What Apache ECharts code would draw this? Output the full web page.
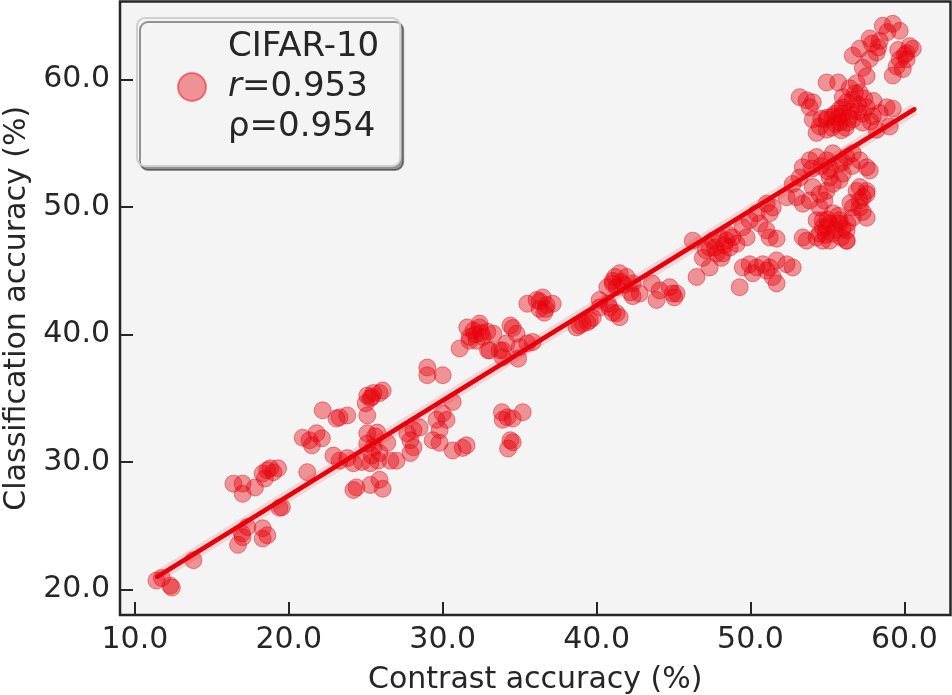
<!DOCTYPE html>
<html>
<head>
<meta charset="utf-8">
<title>CIFAR-10 contrast vs classification accuracy</title>
<script src="https://cdn.jsdelivr.net/npm/echarts@6/dist/echarts.min.js"></script>
<style>
  html, body { margin: 0; padding: 0; background: #ffffff; }
  #chart { width: 952px; height: 695px; }
</style>
</head>
<body>
<div id="chart"></div>
<script>
// --- data: [contrast accuracy, classification accuracy] ---
var seriesName = 'CIFAR-10';
var pearsonR = '0.953';
var spearmanRho = '0.954';

var lowGroup = [
  [11.4,20.7],[11.75,20.9],[12.3,20.3],[12.4,20.15],[13.8,22.3],
  [16.7,23.5],[16.95,24.4],[17.3,24.9],[17.0,24.1],[18.3,24.8],[18.6,24.25],[18.3,24.0],
  [19.4,26.4],[19.55,26.45],
  [16.4,28.3],[17.0,28.3],[17.0,27.5],[17.8,28.0],
  [18.3,29.1],[18.6,29.35],[18.8,29.5],[19.0,29.2],[19.3,29.5],[18.45,28.7]
];
var group20s = [
  [21.2,29.2],[20.9,31.9],[21.35,31.7],[21.8,32.25],[22.15,31.85],[21.5,31.3],
  [22.2,34.05],[23.1,33.4],[23.3,33.5],[23.8,33.65],
  [25.1,35.2],[25.5,35.4],[25.9,35.4],[25.3,35.0],[25.0,34.6],[25.1,33.65],[26.1,35.6],[25.4,35.1],
  [22.9,30.5],[23.3,30.1],[23.8,30.3],[24.2,29.9],[24.75,30.0],
  [24.4,28.0],[24.2,27.8],[25.3,28.2],[26.1,27.9],[25.9,28.6],
  [25.1,32.25],[25.75,32.3],[25.5,31.15],[25.9,30.7],[25.3,29.9],[25.8,30.1],[25.6,32.0],[25.4,30.5],
  [26.4,31.5],[25.1,31.45],[26.6,30.1],[27.0,30.1]
];
var group30sLow = [
  [29.0,37.4],[29.0,36.8],[30.0,36.8],
  [30.65,34.7],[30.0,33.8],[30.25,33.3],[29.6,33.3],[29.8,32.5],[29.35,31.7],[29.8,31.5],
  [30.65,30.9],[31.3,31.1],[31.55,31.3],
  [27.7,32.25],[28.1,32.5],[28.5,32.7],[27.9,31.7],[28.1,31.15],[27.9,30.7],
  [33.85,33.9],[34.2,33.5],[34.55,33.4],[35.2,33.9],[33.9,33.3],[34.4,31.7],[34.55,31.55],[34.25,31.05]
];
var group30sHigh = [
  [31.6,40.55],[32.0,40.3],[32.4,40.55],[32.9,40.2],[31.1,38.9],[32.2,39.5],[32.6,39.8],[31.75,39.8],[32.95,38.75],
  [34.4,40.7],[34.55,40.5],[33.9,38.75],[35.0,39.0],[35.5,39.3],[35.85,39.4],[34.9,38.1],
  [32.4,40.85],[33.3,40.05],[31.75,39.5],[33.05,38.75],[33.7,38.75],[34.8,40.05],[34.15,39.3],[33.9,38.2],
  [32.5,40.1],[32.1,40.0],
  [36.1,42.7],[36.5,42.9],[36.75,42.3],[37.15,42.4],[36.6,41.7],[35.5,42.4],[36.3,42.0],[36.3,42.6],[36.7,42.0]
];
var group40s = [
  [38.9,40.7],[39.4,40.95],[39.75,41.3],[40.2,42.1],[40.75,42.4],[41.05,41.7],
  [38.7,40.55],[39.1,40.85],[39.55,41.1],[41.3,41.65],[41.5,41.35],[40.85,42.1],[40.2,42.7],
  [41.05,44.2],[41.5,44.8],[41.95,44.5],[41.3,43.7],[42.35,44.0],[42.8,43.2],[42.2,43.3],
  [40.7,43.7],[41.05,44.0],[42.35,43.0],[41.6,44.1],[41.8,43.9],[41.2,44.5],
  [43.6,44.0],[44.1,43.45],[43.9,42.7],[44.75,43.7],[45.2,43.2],[45.05,42.9],[44.95,43.2],
  [46.5,44.5]
];
var group50s = [
  [46.25,47.35],[46.9,46.0],[47.35,46.8],[47.55,47.35],[48.0,47.6],[48.45,47.35],[48.65,46.8],
  [49.1,47.1],[47.8,46.35],[47.35,45.25],[48.2,46.35],[48.85,47.6],
  [47.7,46.8],[48.3,47.0],[47.1,46.6],[48.6,47.8],[48.1,46.0],
  [49.3,43.7],
  [49.5,45.25],[49.95,45.5],[50.4,45.25],[50.8,45.5],[51.25,45.25],[51.7,45.8],[52.35,45.5],
  [52.75,45.25],[51.45,44.5],[51.7,44.0],[51.05,45.0],[50.15,44.8],
  [49.5,48.4],[49.95,48.95],[50.6,48.7],[51.05,48.15],[51.25,47.6],[51.7,47.5],[49.75,47.6],
  [50.4,49.5],[51.25,49.5],[51.45,49.95],[51.05,50.25]
];
var groupMidRight = [
  [52.35,50.75],[52.75,51.8],[53.2,52.3],[53.4,53.1],[53.85,53.65],[54.3,53.9],[54.95,53.65],
  [55.35,54.2],[55.8,53.4],[56.25,53.9],[56.65,54.2],[57.1,53.65],[57.55,53.1],[57.75,52.85],
  [54.0,53.0],[54.6,53.2],[55.2,53.0],[56.0,53.5],[56.6,53.2],[55.0,52.8],
  [53.0,50.75],[53.4,50.25],[53.85,50.5],[54.5,51.0],[54.95,51.25],[55.35,51.8],[55.15,52.3],
  [56.0,52.6],[55.8,52.1],[54.05,51.55],
  [54.5,49.95],[54.7,48.95],[54.95,48.4],[54.5,47.9],[55.35,49.5],[55.8,48.7],[56.25,48.15],
  [55.35,47.9],[56.25,47.35],[56.65,49.15],[57.1,49.95],[57.55,49.15],[56.9,51.25],[57.3,50.75],
  [57.55,51.25],[53.4,47.6],[53.65,47.35],[54.3,47.6],[54.7,47.35],
  [54.3,48.95],[54.7,48.4],[55.15,48.7],[55.8,48.95],[56.65,49.95],[57.1,50.5],[57.55,51.0],
  [57.1,51.55],[55.15,47.35],[56.25,47.35],
  [55.5,48.2],[56.0,48.3],[55.7,49.3],[56.3,48.7],[55.0,49.0],[54.8,50.5],[56.5,50.3],
  [57.3,49.6],[55.9,47.6],[54.9,47.8]
];
var groupTop = [
  [53.2,58.6],[53.65,58.35],[54.05,58.2],[53.85,57.8],[54.95,59.75],[55.7,59.75],
  [54.05,56.85],[54.5,56.3],[54.95,56.85],[55.35,57.1],[55.8,57.65],[56.25,58.2],[56.65,58.4],
  [57.1,58.95],[57.55,57.8],[57.95,57.1],[58.4,57.35],[58.85,57.8],[59.25,57.7],[54.3,55.8],
  [54.95,56.05],[55.8,56.6],[56.65,56.85],[57.3,56.6],[58.2,56.05],[59.05,56.3],
  [55.0,57.0],[55.5,57.3],[56.0,57.8],[56.5,57.5],[57.0,58.0],[56.3,56.6],[55.7,57.0],
  [57.3,57.3],[56.8,58.9],[55.3,56.2],[54.6,56.9],[57.8,56.7],[56.0,58.6],[55.9,56.0],
  [57.4,58.5],[58.0,58.3],
  [56.45,59.3],[56.9,59.7],[57.55,60.25],[57.3,60.9],[57.75,61.6],[58.2,62.1],[56.65,61.85],
  [57.1,62.4],[57.75,63.2],[58.4,63.0],[58.6,64.2],[59.25,64.35],[59.7,63.8],[58.3,62.5],[57.9,62.8],[58.9,63.7],
  [59.5,61.0],[59.7,61.55],[60.15,62.05],[60.55,62.4],[60.35,62.6],[59.9,60.8],[60.15,61.55],[59.25,60.3],
  [60.0,61.9],[59.6,62.3],
  [56.0,57.3],[56.4,57.0],[57.0,57.5],[56.2,56.2],[55.5,56.5]
];

// fitted regression line, end points
var fitLine = [[11.45, 21.0], [60.65, 57.65]];

// axis ranges and tick labels
var xRange = [9.03, 63.0];
var yRange = [18.0, 66.1];
var xTicks = [10, 20, 30, 40, 50, 60];
var yTicks = [20, 30, 40, 50, 60];

var allPoints = lowGroup.concat(group20s, group30sLow, group30sHigh, group40s, group50s, groupMidRight, groupTop);

var textColor = '#262626';
var red = '#e8000b';
var font = 'DejaVu Sans';

var chart = echarts.init(document.getElementById('chart'));

var option = {
  animation: false,
  backgroundColor: '#ffffff',
  textStyle: { fontFamily: font, color: textColor },
  grid: {
    left: 120, right: 1.5, top: 1.5, bottom: 80,
    outerBoundsMode: 'none',
    containLabel: false,
    show: true,
    backgroundColor: '#f4f4f4',
    borderColor: textColor,
    borderWidth: 2.5
  },
  legend: {
    data: [seriesName],
    left: 137,
    top: 18,
    orient: 'vertical',
    icon: 'circle',
    itemWidth: 28,
    itemHeight: 28,
    padding: [12, 21, 22, 40],
    backgroundColor: '#f4f4f4',
    borderColor: '#cfcfcf',
    borderWidth: 2,
    borderRadius: 8,
    shadowColor: 'rgba(0,0,0,0.4)',
    shadowOffsetX: 3,
    shadowOffsetY: 4,
    shadowBlur: 0,
    formatter: function (name) {
      return '{n|' + name + '}\n{i|r}{n|=' + pearsonR + '}\n{n|\u03c1=' + spearmanRho + '}';
    },
    textStyle: {
      padding: [0, 0, 0, 17],
      rich: {
        n: { fontFamily: font, fontSize: 34, lineHeight: 40, color: textColor },
        i: { fontFamily: font, fontSize: 34, lineHeight: 40, color: textColor, fontStyle: 'italic' }
      }
    }
  },
  xAxis: {
    type: 'value',
    min: xRange[0],
    max: xRange[1],
    name: 'Contrast accuracy (%)',
    nameLocation: 'middle',
    nameGap: 50,
    nameTextStyle: { fontFamily: font, fontSize: 30, color: textColor },
    axisLine: { show: false },
    splitLine: { show: false },
    axisTick: {
      show: true, inside: true, length: 13,
      customValues: xTicks,
      lineStyle: { color: textColor, width: 2 }
    },
    axisLabel: {
      customValues: xTicks,
      margin: 10,
      fontFamily: font, fontSize: 30, color: textColor,
      formatter: function (v) { return v.toFixed(1); }
    }
  },
  yAxis: {
    type: 'value',
    min: yRange[0],
    max: yRange[1],
    name: 'Classification accuracy (%)',
    nameLocation: 'middle',
    nameGap: 84,
    nameTextStyle: { fontFamily: font, fontSize: 30, color: textColor },
    axisLine: { show: false },
    splitLine: { show: false },
    axisTick: {
      show: true, inside: true, length: 13,
      customValues: yTicks,
      lineStyle: { color: textColor, width: 2 }
    },
    axisLabel: {
      customValues: yTicks,
      margin: 10,
      fontFamily: font, fontSize: 30, color: textColor,
      formatter: function (v) { return v.toFixed(1); }
    }
  },
  series: [
    {
      name: seriesName,
      type: 'scatter',
      data: allPoints,
      symbol: 'circle',
      symbolSize: 17,
      itemStyle: {
        color: 'rgba(232,0,11,0.5)',
        borderColor: 'rgba(232,0,11,0.55)',
        borderWidth: 1
      },
      z: 2
    },
    {
      // faint confidence band around the fit
      name: 'band',
      type: 'line',
      data: fitLine,
      showSymbol: false,
      silent: true,
      lineStyle: { color: 'rgba(232,0,11,0.12)', width: 12 },
      z: 3
    },
    {
      name: 'fit',
      type: 'line',
      data: fitLine,
      showSymbol: false,
      silent: true,
      lineStyle: { color: red, width: 4.5, cap: 'round' },
      z: 4
    }
  ]
};

chart.setOption(option);
</script>
</body>
</html>
